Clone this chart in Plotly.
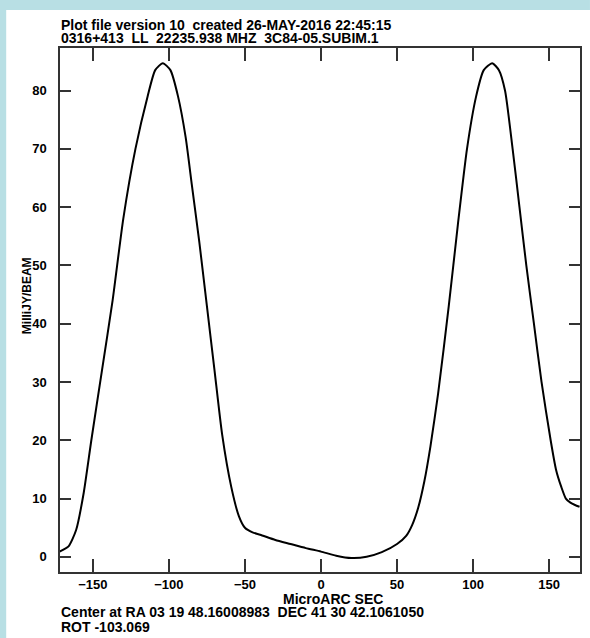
import plotly.graph_objects as go

# Data
offset_uas = [-172, -166, -161, -156, -151, -144, -137, -130, -122, -114, -109, -104, -99, -94, -89, -85,
              -80, -75, -70, -65, -59, -54, -50, -45, -40, -30, -20, -10, 0, 10, 20, 30, 40, 50, 56, 60,
              64, 68, 72, 77, 84, 90, 96, 102, 107, 112.6, 117, 121, 126, 130.5, 135, 140, 145, 151,
              154.5, 158, 161, 164, 167, 170]
flux_mjy = [0.9, 1.8, 4.6, 11, 20, 32, 44, 58, 70, 79, 83.5, 84.7, 83.5, 79, 72, 64,
            54, 43, 32, 21, 12, 7, 5, 4.2, 3.8, 2.9, 2.2, 1.5, 0.9, 0.2, -0.2, 0.0, 0.8, 2.2, 3.6, 5.5,
            8.5, 13, 19, 28, 43, 57, 70, 79, 83.5, 84.7, 83.5, 80, 70, 60, 50, 40, 30, 20,
            15, 12, 10, 9.3, 8.9, 8.6]

x_ticks = [-150, -100, -50, 0, 50, 100, 150]
y_ticks = [0, 10, 20, 30, 40, 50, 60, 70, 80]

title_line1 = "Plot file version 10  created 26-MAY-2016 22:45:15"
title_line2 = "0316+413  LL  22235.938 MHZ  3C84-05.SUBIM.1"
x_title = "MicroARC SEC"
y_title = "MilliJY/BEAM"
foot_line1 = "Center at RA 03 19 48.16008983  DEC 41 30 42.1061050"
foot_line2 = "ROT -103.069"

W, H = 590, 638
L, R, T, B = 60, 8, 48, 66
pw, ph = W - L - R, H - T - B
FRAME = "#b8dfe4"


def px(xp):
    return (xp - L) / pw


def py(yp):
    return (H - B - yp) / ph


font = dict(family="Liberation Sans", size=14, color="black", weight="bold")
tick_font = dict(family="Liberation Sans", size=13, color="black", weight="bold")

fig = go.Figure()
fig.add_trace(go.Scatter(x=offset_uas, y=flux_mjy, mode="lines",
                         line=dict(color="black", width=2, shape="spline", smoothing=0.6),
                         hoverinfo="skip", showlegend=False))

axis_common = dict(showgrid=False, zeroline=False, showline=True, linecolor="#333333", linewidth=1.5,
                   mirror="allticks", ticks="inside", tickcolor="#333333", tickwidth=1.5,
                   tickfont=tick_font)

fig.update_xaxes(range=[-171.6, 170.3], tickvals=x_ticks, ticklen=13, ticklabelstandoff=0, **axis_common)
fig.update_yaxes(range=[-2.6, 87.3], tickvals=y_ticks, ticklen=11, ticklabelstandoff=9, **axis_common)

annotations = [
    dict(text=title_line1, x=px(60), y=py(25)),
    dict(text=title_line2, x=px(60), y=py(38)),
    dict(text=foot_line1, x=px(60), y=py(612)),
    dict(text=foot_line2, x=px(60), y=py(627)),
    dict(text=x_title, x=px(283), y=py(599)),
]
for a in annotations:
    fig.add_annotation(xref="paper", yref="paper", xanchor="left", yanchor="middle",
                       showarrow=False, font=font, borderpad=0, **a)
fig.add_annotation(text=y_title, xref="paper", yref="paper", x=px(27), y=py(296),
                   xanchor="center", yanchor="middle", textangle=-90, showarrow=False, borderpad=0,
                   font=dict(family="Liberation Sans", size=12, color="black", weight="bold"))

# light-blue frame on the left and top edges of the white sheet
fig.add_shape(type="rect", xref="paper", yref="paper", x0=px(-2), x1=px(W + 2), y0=py(10), y1=py(-2),
              fillcolor=FRAME, line_width=0, layer="above")
fig.add_shape(type="rect", xref="paper", yref="paper", x0=px(-2), x1=px(6), y0=py(H + 2), y1=py(-2),
              fillcolor=FRAME, line_width=0, layer="above")

fig.update_layout(width=W, height=H, margin=dict(l=L, r=R, t=T, b=B),
                  paper_bgcolor="white", plot_bgcolor="white")

fig.write_html("out.html", config={"displayModeBar": False},
               post_script="document.body.style.margin='0';document.body.style.overflow='hidden';")
